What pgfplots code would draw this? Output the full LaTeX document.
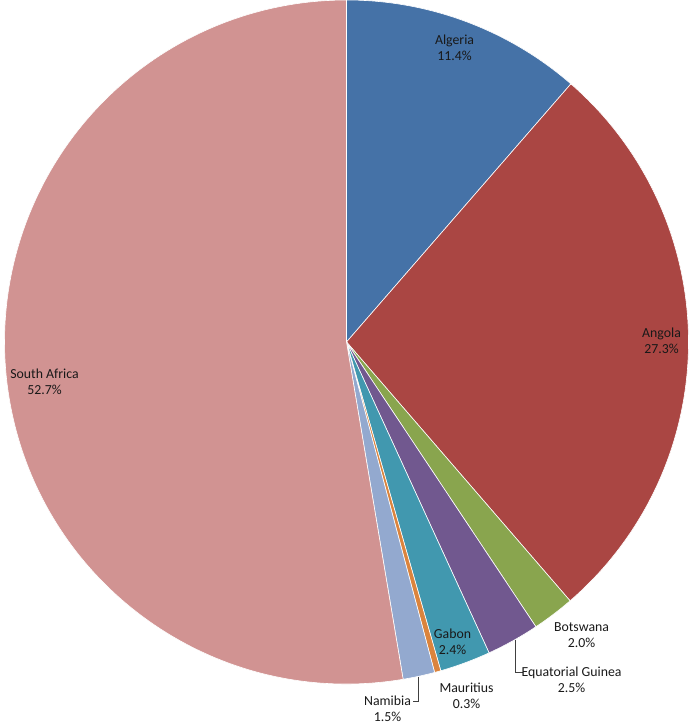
\documentclass[border=0pt]{standalone}
\usepackage{fontspec}
\setmainfont{Carlito}
\usepackage{pgfplots}
\usepackage{pgfplotstable}
\pgfplotsset{compat=1.18}

\definecolor{cAlg}{HTML}{4572A7}
\definecolor{cAng}{HTML}{AA4643}
\definecolor{cBot}{HTML}{89A54E}
\definecolor{cEqg}{HTML}{71588F}
\definecolor{cGab}{HTML}{4198AF}
\definecolor{cMau}{HTML}{DB843D}
\definecolor{cNam}{HTML}{93A9CF}
\definecolor{cSaf}{HTML}{D19392}

% share of each country, clockwise from 12 o'clock
\pgfplotstableread[col sep=comma]{
name,value,color
Algeria,11.4,cAlg
Angola,27.3,cAng
Botswana,2.0,cBot
Equatorial Guinea,2.5,cEqg
Gabon,2.4,cGab
Mauritius,0.3,cMau
Namibia,1.5,cNam
South Africa,52.7,cSaf
}\piedata

\begin{document}
% start/end angle of each slice, worked out before the axis
\gdef\cum{0}
\foreach \i in {0,...,7}{%
  \pgfplotstablegetelem{\i}{value}\of\piedata \let\sliceval\pgfplotsretval
  \pgfplotstablegetelem{\i}{color}\of\piedata
  \expandafter\xdef\csname col\i\endcsname{\pgfplotsretval}%
  \pgfmathsetmacro\angA{90-\cum*(360/100.1)}%
  \pgfmathsetmacro\angB{90-(\cum+\sliceval)*(360/100.1)}%
  \expandafter\xdef\csname angA\i\endcsname{\angA}%
  \expandafter\xdef\csname angB\i\endcsname{\angB}%
  \pgfmathsetmacro\newcum{\cum+\sliceval}\xdef\cum{\newcum}%
}%
\begin{tikzpicture}[lbl/.style={font=\fontsize{6.9}{8}\selectfont, text=black!90, align=center, inner sep=0pt}]
\begin{axis}[
    hide axis,
    scale only axis,
    width=342.5pt, height=361.5pt,
    xmin=0, xmax=685, ymin=-723, ymax=0,
    clip=false,
]
\coordinate (bl) at (axis cs:0,-723);
\coordinate (tr) at (axis cs:685,0);
\pgfplotsinvokeforeach{0,...,7}{
  \fill[\csname col#1\endcsname, draw=white, line width=0.3pt]
    (axis cs:342,-342) -- ++(\csname angA#1\endcsname:171pt)
    arc[start angle=\csname angA#1\endcsname, end angle=\csname angB#1\endcsname, radius=171pt] -- cycle;
}
% leader lines
\draw[black!75, line width=0.5pt] (axis cs:511,-640) -- (axis cs:511,-673) -- (axis cs:518,-673);
\draw[black!75, line width=0.5pt] (axis cs:414,-677) -- (axis cs:414,-702) -- (axis cs:408,-702);
% labels
\node[lbl] at (axis cs:450,-48) {Algeria\\11.4\%};
\node[lbl] at (axis cs:657,-341) {Angola\\27.3\%};
\node[lbl] at (axis cs:577,-635) {Botswana\\2.0\%};
\node[lbl] at (axis cs:567,-680) {Equatorial Guinea\\2.5\%};
\node[lbl] at (axis cs:448,-642) {Gabon\\2.4\%};
\node[lbl] at (axis cs:462,-696) {Mauritius\\0.3\%};
\node[lbl] at (axis cs:383,-709) {Namibia\\1.5\%};
\node[lbl] at (axis cs:40,-382) {South Africa\\52.7\%};
\end{axis}
% arcs put their Bezier control points in the box: keep it to the page size
\pgfresetboundingbox
\path (bl) rectangle (tr);
\end{tikzpicture}
\end{document}
